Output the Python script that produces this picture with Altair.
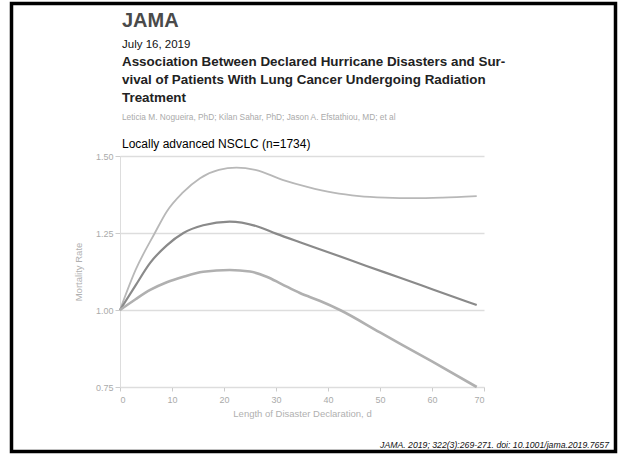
import altair as alt
import pandas as pd

# ---- data ----
upper_x = [0, 3, 6.7, 9, 12, 15.4, 19, 22.4, 26, 31.4, 36, 41, 46, 51, 56.6, 62, 68.6]
upper_y = [1.0, 1.13, 1.25, 1.32, 1.38, 1.428, 1.455, 1.462, 1.455, 1.422, 1.40, 1.381, 1.37, 1.365, 1.363, 1.365, 1.37]

mid_x = [0, 3, 5.8, 9, 12.2, 16, 21.1, 26.3, 30, 34.6, 41, 47.4, 54, 60.3, 68.6]
mid_y = [1.0, 1.08, 1.153, 1.21, 1.25, 1.275, 1.287, 1.272, 1.248, 1.22, 1.182, 1.143, 1.104, 1.066, 1.016]

low_x = [0, 3, 5.8, 9, 12.2, 16, 21.1, 25, 28.2, 31, 34.6, 38.5, 42.3, 50, 60, 68.6]
low_y = [1.0, 1.035, 1.065, 1.09, 1.108, 1.124, 1.13, 1.125, 1.108, 1.085, 1.055, 1.029, 1.0, 0.927, 0.833, 0.75]

series_names = ["Upper 95% CI", "Estimate", "Lower 95% CI"]
series_colors = ["#b8b8b8", "#8a8a8a", "#b0b0b0"]

x_ticks = [0, 10, 20, 30, 40, 50, 60, 70]
y_ticks = [0.75, 1.00, 1.25, 1.50]

rows = []
for name, xs, ys in zip(series_names, [upper_x, mid_x, low_x], [upper_y, mid_y, low_y]):
    for i, (a, b) in enumerate(zip(xs, ys)):
        rows.append({"series": name, "days": a, "rate": b, "order": i})
df = pd.DataFrame(rows)

W, H = 364, 231
FONT = "Liberation Sans"

lines = alt.Chart(df).mark_line(interpolate="monotone").encode(
    x=alt.X("days:Q", scale=alt.Scale(domain=[0, 70]),
            axis=alt.Axis(values=x_ticks, title="Length of Disaster Declaration, d",
                          grid=False, domainColor="#dddddd", tickColor="#cccccc",
                          tickSize=4, labelColor="#aaaaaa", labelFontSize=9,
                          labelPadding=4, titleColor="#b0b0b0", titleFontSize=9.5,
                          titleFontWeight="normal", titlePadding=4)),
    y=alt.Y("rate:Q", scale=alt.Scale(domain=[0.75, 1.5]),
            axis=alt.Axis(values=y_ticks, format=".2f", title="Mortality Rate",
                          gridColor="#dddddd", gridWidth=1.5, domainColor="#dddddd",
                          tickColor="#cccccc", tickSize=5, labelColor="#aaaaaa",
                          labelFontSize=9, labelPadding=2, titleColor="#b0b0b0",
                          titleFontSize=9.5, titleFontWeight="normal", titlePadding=12)),
    color=alt.Color("series:N", scale=alt.Scale(domain=series_names, range=series_colors), legend=None),
    strokeWidth=alt.StrokeWidth("series:N", scale=alt.Scale(domain=series_names, range=[1.8, 2.6, 2.0]), legend=None),
    order="order:Q",
)

def txt(s, x, y, size, color="#000000", weight="normal", style="normal", align="left", font=FONT):
    return alt.Chart(pd.DataFrame({"t": [s]})).mark_text(
        align=align, baseline="alphabetic", fontSize=size, color=color,
        fontWeight=weight, fontStyle=style, font=font,
    ).encode(text="t:N", x=alt.value(x), y=alt.value(y))

texts = [
    txt("JAMA", 2, -129, 20, "#4a4a4a", "bold"),
    txt("July 16, 2019", 2, -108, 11.5, "#111111"),
    txt("Association Between Declared Hurricane Disasters and Sur-", 2, -90, 13.4, "#222222", "bold"),
    txt("vival of Patients With Lung Cancer Undergoing Radiation", 2, -72, 13.4, "#222222", "bold"),
    txt("Treatment", 2, -54, 13.4, "#222222", "bold"),
    txt("Leticia M. Nogueira, PhD; Kilan Sahar, PhD; Jason A. Efstathiou, MD; et al", 2, -36, 8.3, "#aaaaaa"),
    txt("Locally advanced NSCLC (n=1734)", 2, -8, 12, "#000000"),
    txt("JAMA. 2019; 322(3):269-271. doi: 10.1001/jama.2019.7657", 489, 292, 8.7, "#111111", style="italic", align="right"),
]

frame = alt.Chart(pd.DataFrame({"a": [0]})).mark_rect(
    fill=None, stroke="#000000", strokeWidth=3.5
).encode(x=alt.value(-108.5), x2=alt.value(495.5), y=alt.value(-152.5), y2=alt.value(295.5))

chart = alt.layer(lines, *texts, frame).properties(
    width=W, height=H,
    padding={"left": 120, "top": 156, "right": 134, "bottom": 68},
    autosize=alt.AutoSizeParams(type="none"),
    background="#ffffff",
).configure(font=FONT, view=alt.ViewConfig(stroke=None))

chart.save("out.html", embed_options={"renderer": "svg", "actions": False})
